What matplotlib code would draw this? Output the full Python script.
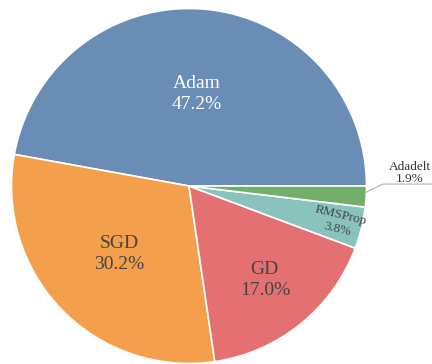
import numpy as np
import matplotlib.pyplot as plt

optimizers = ['Adam', 'SGD', 'GD', 'RMSProp', 'Adadelt']
shares = [47.2, 30.2, 17.0, 3.8, 1.9]
colors = ['#698db4', '#f49f4b', '#e57072', '#8ac2bd', '#72af69']
text_colors = ['white', '#444444', '#444444', '#444444', '#333333']
# how far out (fraction of radius) each inside label sits
label_r = [0.52, 0.55, 0.68, 0.87, None]
label_size = [14, 14, 14, 9.5, 9.5]

plt.rcParams['font.family'] = ['Liberation Serif', 'DejaVu Serif']

fig = plt.figure(figsize=(4.32, 3.64), dpi=100)
W, H = 432, 364
cx, cy, R = 189, 186, 177.5
ax = fig.add_axes([(cx - R) / W, (H - cy - R) / H, 2 * R / W, 2 * R / H])

wedges, _ = ax.pie(shares, colors=colors, startangle=0, counterclock=True,
                   radius=1, wedgeprops=dict(edgecolor='white', linewidth=1.2))
ax.set_xlim(-1, 1)
ax.set_ylim(-1, 1)
ax.set_aspect('auto')

total = sum(shares)
start = 0.0
for name, val, tc, r, fs in zip(optimizers, shares, text_colors, label_r, label_size):
    mid = start + val / total * 360 / 2
    start += val / total * 360
    a = np.deg2rad(mid)
    txt = f'{name}\n{val:.1f}%'
    if r is None:
        # small slice: label outside with a leader line
        ax.plot([0.99, 1.093, 1.38], [-0.039, 0.011, 0.011], color='#aaaaaa',
                lw=0.7, clip_on=False)
        ax.text(1.245, 0.075, txt, ha='center', va='center', fontsize=fs,
                color=tc, linespacing=1.0, clip_on=False)
        continue
    rot = 0
    if val < 5:
        rot = mid - 360 if mid > 180 else mid
    ax.text(r * np.cos(a), r * np.sin(a), txt, ha='center', va='center',
            fontsize=fs, color=tc, rotation=rot, rotation_mode='anchor',
            linespacing=1.25)

fig.savefig('out.png', dpi=100)
